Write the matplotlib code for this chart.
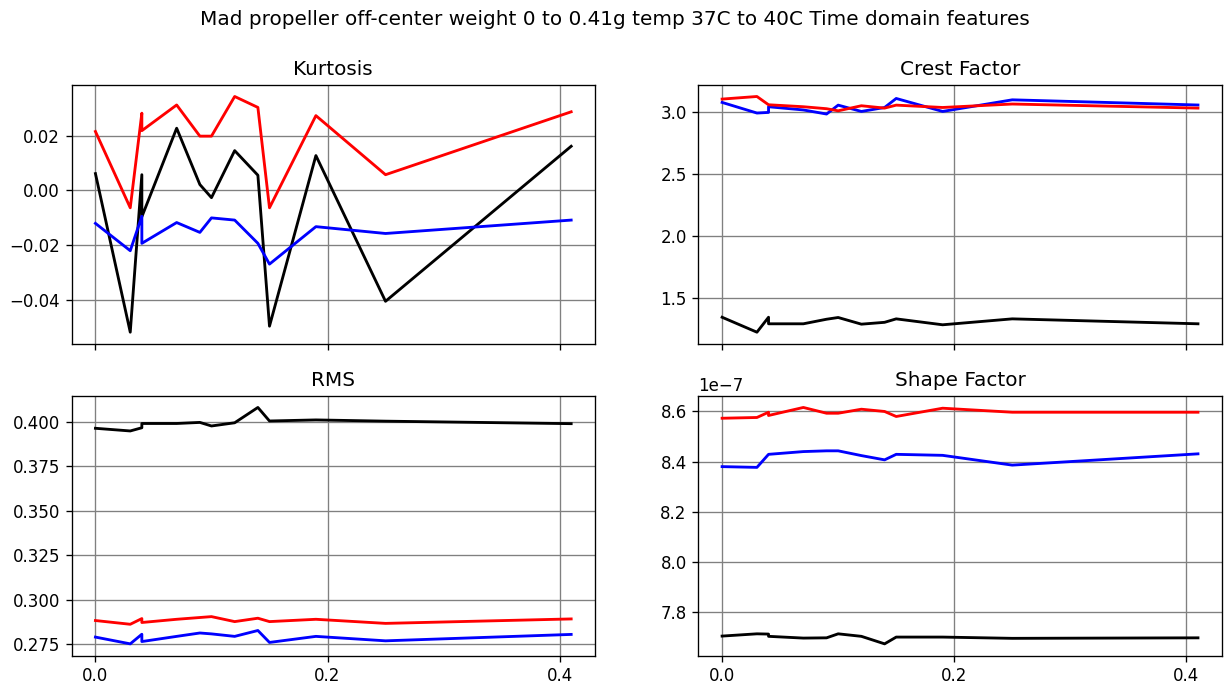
import matplotlib
matplotlib.use("Agg")
import matplotlib.pyplot as plt

# Off-center weight (g) for each recorded run
weight = [0.0, 0.03, 0.04, 0.04, 0.07, 0.09, 0.10, 0.12, 0.14, 0.15, 0.19, 0.25, 0.41]

# Kurtosis per sensor channel
kurt_black = [0.0061, -0.0519, 0.0057, -0.0097, 0.0227, 0.0021, -0.0027, 0.0145, 0.0055, -0.0497, 0.0127, -0.0406, 0.0161]
kurt_blue = [-0.0121, -0.0221, -0.0095, -0.0194, -0.0118, -0.0154, -0.0101, -0.0109, -0.0194, -0.0270, -0.0133, -0.0158, -0.0109]
kurt_red = [0.0215, -0.0064, 0.0282, 0.0218, 0.0312, 0.0198, 0.0198, 0.0343, 0.0303, -0.0064, 0.0273, 0.0057, 0.0287]

# Crest factor per sensor channel
crest_black = [1.341, 1.220, 1.341, 1.288, 1.288, 1.325, 1.339, 1.285, 1.300, 1.328, 1.280, 1.328, 1.288]
crest_blue = [3.081, 2.995, 3.000, 3.046, 3.020, 2.987, 3.059, 3.008, 3.040, 3.113, 3.008, 3.102, 3.060]
crest_red = [3.108, 3.129, 3.062, 3.062, 3.046, 3.030, 3.013, 3.054, 3.035, 3.059, 3.040, 3.068, 3.035]

# RMS per sensor channel
rms_black = [0.3963, 0.3948, 0.3966, 0.3990, 0.3990, 0.3996, 0.3976, 0.3994, 0.4080, 0.4004, 0.4010, 0.4003, 0.3989]
rms_blue = [0.2790, 0.2752, 0.2806, 0.2765, 0.2794, 0.2813, 0.2808, 0.2794, 0.2827, 0.2760, 0.2794, 0.2769, 0.2805]
rms_red = [0.2883, 0.2862, 0.2894, 0.2872, 0.2890, 0.2900, 0.2905, 0.2877, 0.2896, 0.2877, 0.2890, 0.2867, 0.2892]

# Shape factor per sensor channel (x1e-7)
shape_black = [7.704, 7.713, 7.712, 7.703, 7.696, 7.697, 7.713, 7.703, 7.673, 7.700, 7.700, 7.695, 7.697]
shape_blue = [8.380, 8.377, 8.429, 8.429, 8.440, 8.443, 8.443, 8.424, 8.407, 8.429, 8.425, 8.386, 8.431]
shape_red = [8.573, 8.576, 8.597, 8.584, 8.616, 8.593, 8.593, 8.609, 8.600, 8.580, 8.613, 8.597, 8.597]

titles = ["Kurtosis", "Crest Factor", "RMS", "Shape Factor"]
series = [
    (kurt_black, kurt_blue, kurt_red, 1.0),
    (crest_black, crest_blue, crest_red, 1.0),
    (rms_black, rms_blue, rms_red, 1.0),
    (shape_black, shape_blue, shape_red, 1e-7),
]

DPI = 120
fig = plt.figure(figsize=(1229 / DPI, 687 / DPI), dpi=DPI)
positions = [
    [0.0583, 0.4993, 0.4258, 0.3774],
    [0.5682, 0.4993, 0.4259, 0.3774],
    [0.0583, 0.0456, 0.4258, 0.3785],
    [0.5682, 0.0456, 0.4259, 0.3785],
]
axes = []
for i, pos in enumerate(positions):
    if i >= 2:
        ax = fig.add_axes(pos, sharex=axes[i - 2])
    else:
        ax = fig.add_axes(pos)
    axes.append(ax)

for ax, title, (blk, blu, red, scale) in zip(axes, titles, series):
    ax.plot(weight, [v * scale for v in blk], color="black", linewidth=1.7)
    ax.plot(weight, [v * scale for v in blu], color="blue", linewidth=1.7)
    ax.plot(weight, [v * scale for v in red], color="red", linewidth=1.7)
    ax.set_title(title)
    ax.grid(True, color="grey")
    ax.set_xticks([0.0, 0.2, 0.4])

for ax in axes[:2]:
    ax.tick_params(labelbottom=False)

fig.suptitle("Mad propeller off-center weight 0 to 0.41g temp 37C to 40C Time domain features",
             y=0.985)

fig.savefig("out.png", dpi=DPI)
